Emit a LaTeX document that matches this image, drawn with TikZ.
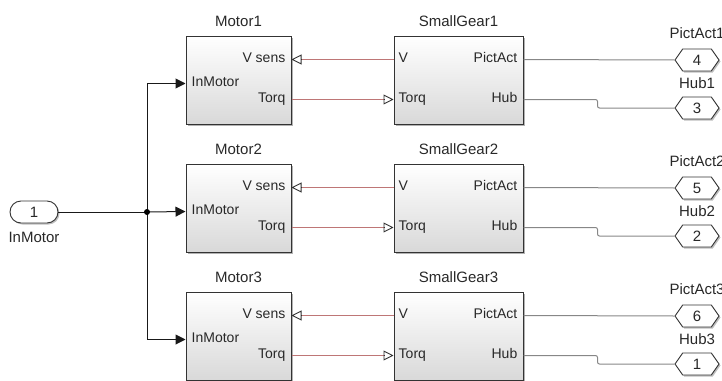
\documentclass[tikz,border=0pt]{standalone}
\usepackage{fontspec}
\setmainfont{Liberation Sans}
\usetikzlibrary{shapes.symbols,shadows,arrows.meta,positioning}
\definecolor{rouge}{RGB}{190,118,118}
\definecolor{gris}{RGB}{135,135,135}
\definecolor{texte}{RGB}{40,40,40}
\tikzset{
	bloc/.style={draw=black!80,line width=1pt,top color=white,bottom color=black!15,
		drop shadow={shadow xshift=2pt,shadow yshift=-2pt,fill=black!30,opacity=1},inner sep=0pt},
	titre/.style={font=\fontsize{15}{16}\selectfont,text=texte},
	port/.style={font=\fontsize{14}{15}\selectfont,text=texte,inner sep=1pt},
	sortie/.style={signal,signal to=west and east,signal pointer angle=110,draw=black!80,
		line width=0.9pt,fill=white,minimum width=44pt,minimum height=22pt,inner sep=0pt,
		font=\fontsize{15}{16}\selectfont,text=texte,
		drop shadow={shadow xshift=1.5pt,shadow yshift=-1.5pt,fill=black!25,opacity=1}},
	entree/.style={rectangle,rounded corners=11pt,draw=black!80,line width=0.9pt,fill=white,
		minimum width=48pt,minimum height=22pt,inner sep=0pt,font=\fontsize{15}{16}\selectfont,text=texte,
		drop shadow={shadow xshift=1.5pt,shadow yshift=-1.5pt,fill=black!25,opacity=1}},
	physique/.style={draw=rouge,line width=1.4pt,shorten >=9pt},
	signal noir/.style={black!90,line width=1pt,-{Triangle[length=10pt,width=10pt]}},
	vide/.style={draw=black!80,line width=0.9pt,-{Triangle[open,length=10pt,width=10pt]}}
}
% #1 numero, #2 decalage, #3 et #4 numeros des sorties
\newcommand{\Rangee}[4]{%
\begin{scope}[yshift=#2]
	%Blocs
	\node[bloc,minimum width=105pt,minimum height=88pt,
		label={[titre,label distance=5pt]above:Motor#1}] (Motor#1) at (238.5,80) {};
	\node[bloc,minimum width=129pt,minimum height=88pt,
		label={[titre,label distance=5pt]above:SmallGear#1}] (Gear#1) at (458.5,80) {};
	%Ports
	\coordinate (M#1-vs) at ([yshift=-24pt]Motor#1.north east);
	\coordinate (M#1-tq) at ([yshift=-64pt]Motor#1.north east);
	\coordinate (M#1-in) at ([yshift=-48pt]Motor#1.north west);
	\coordinate (G#1-v) at ([yshift=-24pt]Gear#1.north west);
	\coordinate (G#1-tq) at ([yshift=-64pt]Gear#1.north west);
	\coordinate (G#1-pa) at ([yshift=-24pt]Gear#1.north east);
	\coordinate (G#1-hub) at ([yshift=-64pt]Gear#1.north east);
	\node[port,anchor=mid east] (lvs#1) at ([xshift=-5pt]M#1-vs) {V sens};
	\node[port,anchor=mid east] (ltqm#1) at ([xshift=-5pt]M#1-tq) {Torq};
	\node[port,anchor=mid west] (lin#1) at ([xshift=5pt]M#1-in) {InMotor};
	\node[port,anchor=mid west] (lv#1) at ([xshift=4pt]G#1-v) {V};
	\node[port,anchor=mid west] (ltqg#1) at ([xshift=4pt]G#1-tq) {Torq};
	\node[port,anchor=mid east] (lpa#1) at ([xshift=-5pt]G#1-pa) {PictAct};
	\node[port,anchor=mid east] (lhub#1) at ([xshift=-5pt]G#1-hub) {Hub};
	%Sorties
	\node[sortie] (Pict#1) at (697,60) {#3};
	\node[titre,above=6pt of Pict#1] (lPict#1) {PictAct#1};
	\node[sortie] (Hub#1) at (697,108) {#4};
	\node[titre,above=4pt of Hub#1] (lHub#1) {Hub#1};
	%Liaisons
	\draw[physique] (G#1-v) -- (M#1-vs);
	\draw[vide] ([xshift=10pt]M#1-vs) -- (M#1-vs);
	\draw[physique] (M#1-tq) -- (G#1-tq);
	\draw[vide] ([xshift=-10pt]G#1-tq) -- (G#1-tq);
	\draw[gris,line width=1pt] (G#1-pa) -- (Pict#1.west);
	\draw[gris,line width=1pt,rounded corners=2pt] (G#1-hub) -- ++(74,0) |- (Hub#1.west);
\end{scope}}

\begin{document}
\begin{tikzpicture}[x=1pt,y=-1pt]
\useasboundingbox (0,0) rectangle (722,380);
\clip (0,0) rectangle (722,380);

\Rangee{1}{0pt}{4}{3}
\Rangee{2}{-128pt}{5}{2}
\Rangee{3}{-256pt}{6}{1}

%Entree
\node[entree] (In1) at (34,212) {1};
\node[titre,below=5pt of In1] (lIn1) {InMotor};
\coordinate (J) at (147,212);
\draw[black!90,line width=1pt] (In1.east) -- (J);
\draw[signal noir] (J) |- (M1-in);
\draw[signal noir] (J) -- (M2-in);
\draw[signal noir] (J) |- (M3-in);
\fill (J) circle (3pt);

\end{tikzpicture}
\end{document}
